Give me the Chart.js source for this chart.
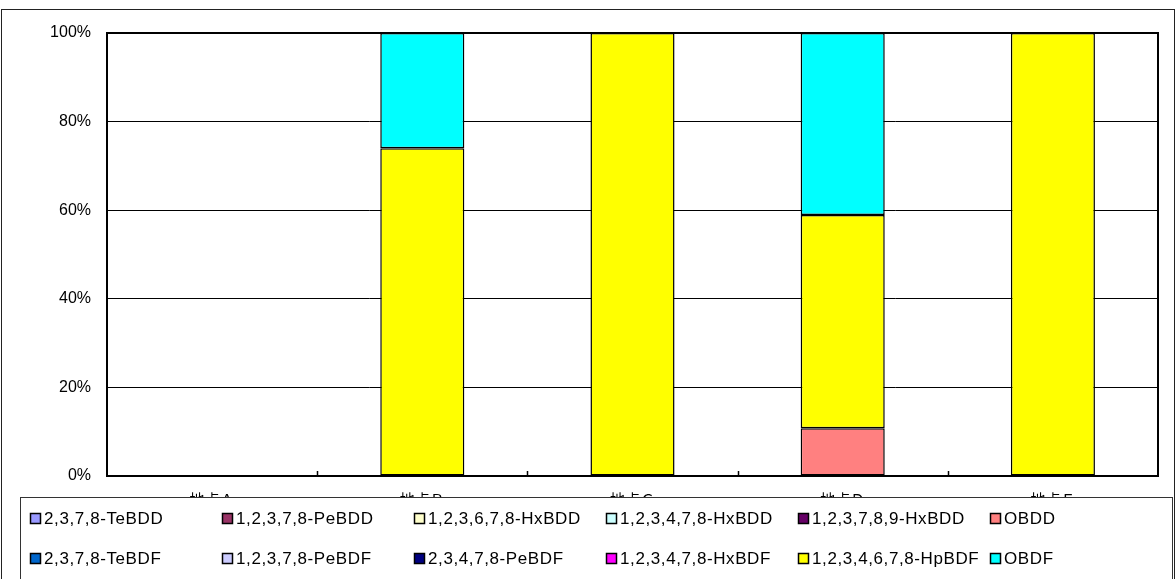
<!DOCTYPE html>
<html>
<head>
<meta charset="utf-8">
<script src="https://cdn.jsdelivr.net/npm/chart.js@4.4.1/dist/chart.umd.min.js"></script>
<style>
html,body{margin:0;padding:0;background:#fff;}
canvas{display:block;}
</style>
</head>
<body>
<canvas id="c" width="1176" height="579"></canvas>
<script>
const categories = ["地点Ａ", "地点Ｂ", "地点Ｃ", "地点Ｄ", "地点Ｅ"];
const yTicks = [0, 20, 40, 60, 80, 100];
const seriesNames = ["2,3,7,8-TeBDD","1,2,3,7,8-PeBDD","1,2,3,6,7,8-HxBDD","1,2,3,4,7,8-HxBDD","1,2,3,7,8,9-HxBDD","OBDD",
                     "2,3,7,8-TeBDF","1,2,3,7,8-PeBDF","2,3,4,7,8-PeBDF","1,2,3,4,7,8-HxBDF","1,2,3,4,6,7,8-HpBDF","OBDF"];
const seriesColors = ["#9999FF","#993366","#FFFFCC","#CCFFFF","#660066","#FF8080",
                      "#0066CC","#CCCCFF","#000080","#FF00FF","#FFFF00","#00FFFF"];
const TeBDD_2378   = [0, 0, 0, 0, 0];
const PeBDD_12378  = [0, 0, 0, 0, 0];
const HxBDD_123678 = [0, 0, 0, 0, 0];
const HxBDD_123478 = [0, 0, 0, 0, 0];
const HxBDD_123789 = [0, 0, 0, 0, 0];
const OBDD         = [0, 0, 0, 10.8, 0];
const TeBDF_2378   = [0, 0, 0, 0, 0];
const PeBDF_12378  = [0, 0, 0, 0, 0];
const PeBDF_23478  = [0, 0, 0, 0, 0];
const HxBDF_123478 = [0, 0, 0, 0, 0];
const HpBDF_1234678= [0, 74.0, 100, 48.1, 100];
const OBDF         = [0, 26.0, 0, 41.1, 0];
const seriesValues = [TeBDD_2378,PeBDD_12378,HxBDD_123678,HxBDD_123478,HxBDD_123789,OBDD,
                      TeBDF_2378,PeBDF_12378,PeBDF_23478,HxBDF_123478,HpBDF_1234678,OBDF];

const FONT = "Liberation Sans, Arial, sans-serif";

const frame = {
  id: 'frame',
  beforeDraw(chart) {
    const ctx = chart.ctx;
    ctx.save();
    ctx.fillStyle = '#fff';
    ctx.fillRect(0, 0, chart.width, chart.height);
    ctx.strokeStyle = '#222';
    ctx.lineWidth = 1;
    ctx.strokeRect(1.5, 9.5, 1173, 620);
    ctx.restore();
  },
  afterDatasetsDraw(chart) {
    const ctx = chart.ctx, a = chart.chartArea, xs = chart.scales.x;
    ctx.save();
    ctx.strokeStyle = '#000';
    ctx.lineWidth = 2;
    ctx.strokeRect(a.left, a.top, a.right - a.left, a.bottom - a.top);
    ctx.lineWidth = 1.5;
    for (let i = 0; i < categories.length - 1; i++) {
      const x = Math.round((xs.getPixelForValue(i) + xs.getPixelForValue(i + 1)) / 2) + 0.5;
      ctx.beginPath();
      ctx.moveTo(x, a.bottom);
      ctx.lineTo(x, a.bottom - 5);
      ctx.stroke();
    }
    ctx.restore();
  },
  afterDraw(chart) {
    const ctx = chart.ctx;
    ctx.save();
    ctx.fillStyle = '#fff';
    ctx.fillRect(20, 497, 1152, 90);
    ctx.strokeStyle = '#333';
    ctx.lineWidth = 1;
    ctx.strokeRect(20.5, 497.5, 1152, 90);
    ctx.font = "17px " + FONT;
    try { ctx.letterSpacing = "0.6px"; } catch (e) {}
    ctx.textBaseline = 'middle';
    ctx.textAlign = 'left';
    for (let i = 0; i < seriesNames.length; i++) {
      const col = i % 6, row = Math.floor(i / 6);
      const x = 30 + col * 192;
      const y = row === 0 ? 518 : 558;
      ctx.fillStyle = seriesColors[i];
      ctx.fillRect(x, y - 5, 10, 10);
      ctx.strokeStyle = '#000';
      ctx.lineWidth = 1.5;
      ctx.strokeRect(x + 0.5, y - 4.5, 10, 10);
      ctx.fillStyle = '#000';
      ctx.fillText(seriesNames[i], x + 14, y + 1);
    }
    ctx.restore();
  }
};

new Chart(document.getElementById('c'), {
  type: 'bar',
  data: {
    labels: categories,
    datasets: seriesNames.map((n, i) => ({
      label: n,
      data: seriesValues[i],
      backgroundColor: seriesColors[i],
      borderColor: '#000',
      borderWidth: 1.5,
      borderSkipped: false,
      barPercentage: 0.4,
      categoryPercentage: 1.0
    }))
  },
  options: {
    responsive: false,
    devicePixelRatio: 1,
    animation: false,
    layout: { padding: { left: 0, top: 33, right: 18, bottom: 0 } },
    plugins: { legend: { display: false }, tooltip: { enabled: false } },
    scales: {
      x: {
        stacked: true,
        grid: { display: false, drawTicks: false },
        border: { display: false },
        ticks: { padding: 14, color: '#000', font: { family: "Noto Sans CJK JP", size: 15 } },
        afterFit(s) { s.height = 103; }
      },
      y: {
        stacked: true,
        min: 0, max: 100,
        afterBuildTicks(s) { s.ticks = yTicks.map(v => ({ value: v })); },
        grid: { color: '#000', lineWidth: 1, drawTicks: false },
        border: { display: false },
        ticks: { padding: 16, color: '#000', font: { family: FONT, size: 16 }, callback: v => v + '%' },
        afterFit(s) { s.width = 107; }
      }
    }
  },
  plugins: [frame]
});
</script>
</body>
</html>
